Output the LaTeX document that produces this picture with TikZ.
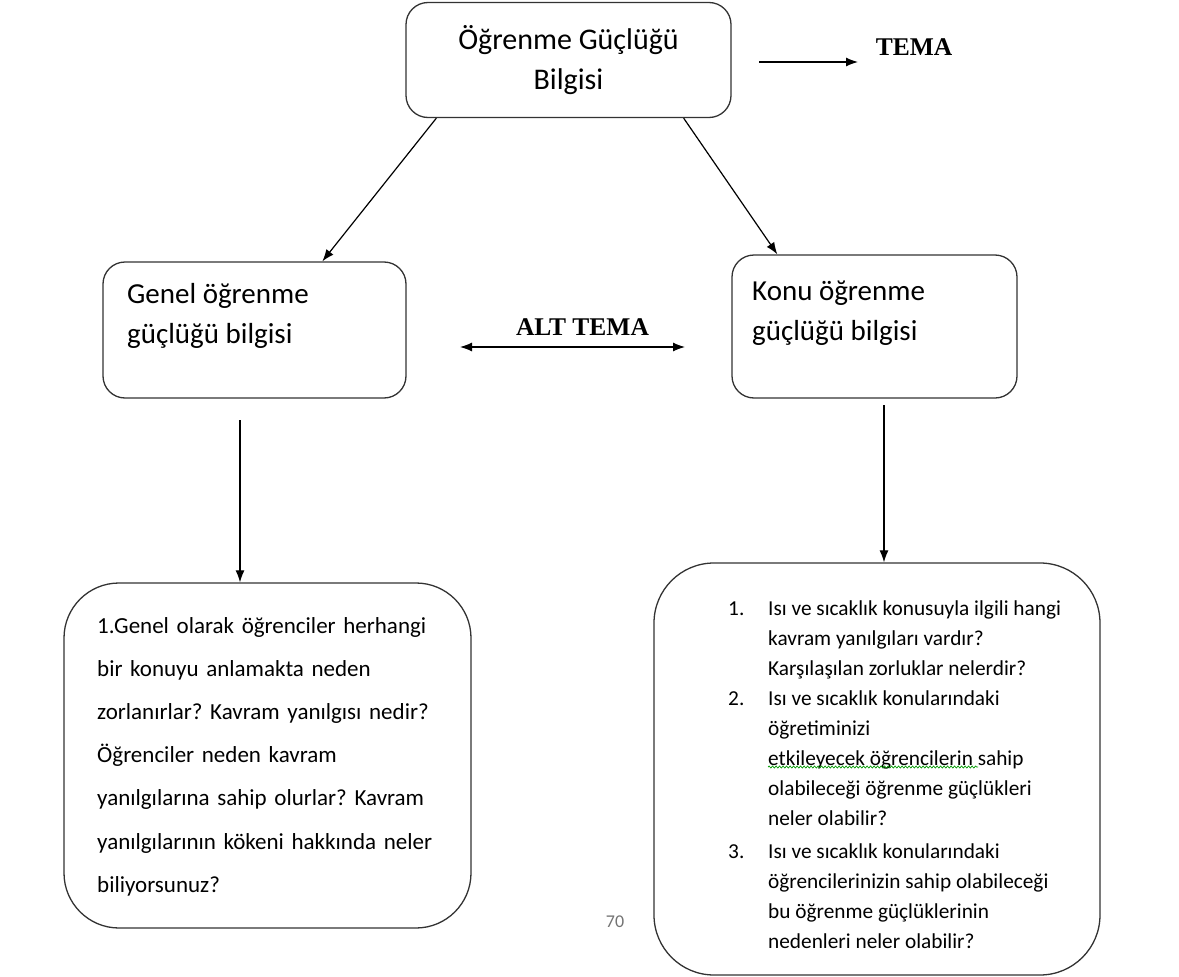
\documentclass[tikz,border=0pt]{standalone}
\usepackage{fontspec}
\setmainfont{Carlito}
\newfontfamily\temafont{Liberation Serif}
\usepackage{tikz}
\usetikzlibrary{arrows.meta,positioning,calc,decorations.pathmorphing}
\frenchspacing

\begin{document}
\begin{tikzpicture}[
    x=1pt, y=-1pt,
    box/.style={rectangle, draw=black!80, line width=1.3pt, rounded corners=22pt},
    bigbox/.style={box, rounded corners=55pt},
    lbl/.style={inner sep=0pt, anchor=north west, align=left},
    listlbl/.style={inner sep=0pt, anchor=north west},
    tema/.style={inner sep=0pt, font=\temafont\bfseries\fontsize{25.5}{28}\selectfont},
    arr/.style={-{Latex[length=12pt,width=9pt]}, line width=1.2pt},
    dbl/.style={{Latex[length=12pt,width=9pt]}-{Latex[length=12pt,width=9pt]}, line width=1.2pt},
    squig/.style={green!60!black, line width=0.7pt, decorate, decoration={snake, amplitude=1pt, segment length=3.5pt}}
]
    \useasboundingbox (0,0) rectangle (1179,977);

    \node[box, minimum width=325pt, minimum height=115pt, align=center,
          font=\fontsize{30}{40}\selectfont] (ogr) at (568.5,60) {Öğrenme Güçlüğü\\Bilgisi};
    \node[box, minimum width=303pt, minimum height=136pt] (genel) at (254.5,330) {};
    \node[box, minimum width=285pt, minimum height=143pt] (konu) at (874.5,326.5) {};
    \node[bigbox, minimum width=407pt, minimum height=345pt] (genq) at (267.5,755.5) {};
    \node[bigbox, rounded corners=60pt, minimum width=446pt, minimum height=412pt] (konuq) at (877,769) {};

    \node[lbl, font=\fontsize{29}{40}\selectfont] (geneltxt) at (127,283) {Genel öğrenme\\güçlüğü bilgisi};
    \node[lbl, font=\fontsize{29}{40}\selectfont] (konutxt) at (752,281) {Konu öğrenme\\güçlüğü bilgisi};

    \node[lbl, text width=380pt, font=\fontsize{23}{43.2}\selectfont] (genqtxt) at (97,617) {%
        1.Genel olarak öğrenciler herhangi\\
        bir konuyu anlamakta neden\\
        zorlanırlar? Kavram yanılgısı nedir?\\
        Öğrenciler neden kavram\\
        yanılgılarına sahip olurlar? Kavram\\
        yanılgılarının kökeni hakkında neler\\
        biliyorsunuz?};

    \node[listlbl, font=\fontsize{21.3}{30}\selectfont] (konuqtxt) at (728,594) {%
        \begin{tabular}{@{}p{40pt}@{}l@{}}
        1. & Isı ve sıcaklık konusuyla ilgili hangi\\
           & kavram yanılgıları vardır?\\
           & Karşılaşılan zorluklar nelerdir?\\
        2. & Isı ve sıcaklık konularındaki\\
           & öğretiminizi\\
           & etkileyecek öğrencilerin sahip\\
           & olabileceği öğrenme güçlükleri\\
           & neler olabilir?\\[3pt]
        3. & Isı ve sıcaklık konularındaki\\
           & öğrencilerinizin sahip olabileceği\\
           & bu öğrenme güçlüklerinin\\
           & nedenleri neler olabilir?
        \end{tabular}};

    \node[tema] (tema) at (914,47) {TEMA};
    \node[tema] (alttema) at (582.5,327) {ALT TEMA};
    \node[inner sep=0pt, text=black!55, font=\fontsize{18}{20}\selectfont] (pgno) at (615,922) {70};

    \coordinate (ta) at (759,62);
    \coordinate (tb) at (858,62);
    \coordinate (la) at (460,347);
    \coordinate (lb) at (685,347);
    \coordinate (ga) at (240,420);
    \coordinate (ka) at (884,405);

    \draw[arr] (ta) -- (tb);
    \draw[dbl] (la) -- (lb);
    \draw[arr] ([xshift=31pt]ogr.south west) -- ([xshift=220pt]genel.north west);
    \draw[arr] ([xshift=-48pt]ogr.south east) -- ([xshift=46pt]konu.north west);
    \draw[arr] (ga) -- (ga |- genq.north);
    \draw[arr] (ka) -- (ka |- konuq.north);

    \draw[squig] (768,767) -- (978,767);
\end{tikzpicture}
\end{document}
